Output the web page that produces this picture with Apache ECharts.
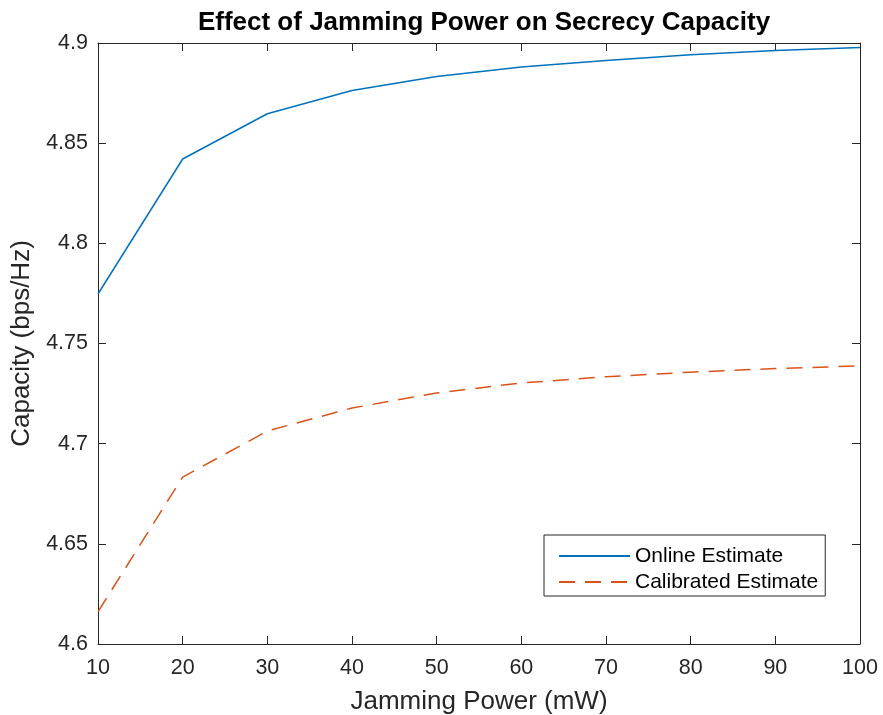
<!DOCTYPE html>
<html>
<head>
<meta charset="utf-8">
<script src="https://cdn.jsdelivr.net/npm/echarts@6/dist/echarts.min.js"></script>
<style>html,body{margin:0;padding:0;background:#fff}#c{width:883px;height:715px}</style>
</head>
<body>
<div id="c"></div>
<script>
const jammingPower = [10, 20, 30, 40, 50, 60, 70, 80, 90, 100];
const onlineEstimate = [4.7747, 4.8421, 4.8647, 4.8763, 4.8833, 4.8880, 4.8913, 4.8941, 4.8963, 4.8978];
const calibratedEstimate = [4.6161, 4.6833, 4.7063, 4.7178, 4.7253, 4.7303, 4.7334, 4.7357, 4.7375, 4.7388];
const seriesNames = ['Online Estimate', 'Calibrated Estimate'];

const axisColor = '#262626';
const font = 'Liberation Sans, Arial, Helvetica, sans-serif';
const chart = echarts.init(document.getElementById('c'));

function pairs(xs, ys) { return xs.map((x, i) => [x, ys[i]]); }

const baseAxis = {
  axisLine: { show: true, lineStyle: { color: axisColor, width: 1 } },
  axisTick: { show: true, inside: true, length: 8, lineStyle: { color: axisColor, width: 1 } },
  splitLine: { show: false }
};

chart.setOption({
  animation: false,
  backgroundColor: '#fff',
  title: {
    text: 'Effect of Jamming Power on Secrecy Capacity',
    left: 479, top: 5, textAlign: 'center',
    textStyle: { fontFamily: font, fontSize: 26, fontWeight: 'bold', color: '#000' }
  },
  grid: { left: 98, right: 23, top: 43, bottom: 71, containLabel: false, outerBoundsMode: 'none' },
  legend: {
    orient: 'vertical',
    left: 544, top: 535,
    padding: [10, 7, 3, 14],
    itemGap: 4,
    itemWidth: 71,
    itemHeight: 14,
    itemTextGap: 7,
    itemStyle: { opacity: 0 },
    borderColor: axisColor, borderWidth: 1,
    backgroundColor: '#fff',
    textStyle: { fontFamily: font, fontSize: 21, lineHeight: 22, color: '#000' },
    data: seriesNames
  },
  xAxis: [
    Object.assign({}, baseAxis, {
      type: 'value', min: 10, max: 100, interval: 10, position: 'bottom',
      name: 'Jamming Power (mW)', nameLocation: 'middle', nameGap: 45,
      nameTextStyle: { fontFamily: font, fontSize: 26, color: axisColor },
      axisLabel: { fontFamily: font, fontSize: 21.5, color: axisColor, margin: 13 }
    }),
    Object.assign({}, baseAxis, {
      type: 'value', min: 10, max: 100, interval: 10, position: 'top',
      axisLabel: { show: false }
    })
  ],
  yAxis: [
    Object.assign({}, baseAxis, {
      type: 'value', min: 4.6, max: 4.9, interval: 0.05, position: 'left',
      name: 'Capacity (bps/Hz)', nameLocation: 'middle', nameGap: 62,
      nameTextStyle: { fontFamily: font, fontSize: 26, color: axisColor },
      axisLabel: { fontFamily: font, fontSize: 21.5, color: axisColor, margin: 10, padding: [3, 0, 0, 0] }
    }),
    Object.assign({}, baseAxis, {
      type: 'value', min: 4.6, max: 4.9, interval: 0.05, position: 'right',
      axisLabel: { show: false }
    })
  ],
  series: [
    {
      name: seriesNames[0], type: 'line', showSymbol: false, symbol: 'none',
      data: pairs(jammingPower, onlineEstimate),
      lineStyle: { color: '#0072BD', width: 1.5 },
      itemStyle: { color: '#0072BD' }
    },
    {
      name: seriesNames[1], type: 'line', showSymbol: false, symbol: 'none',
      data: pairs(jammingPower, calibratedEstimate),
      lineStyle: { color: '#D95319', width: 1.5, type: [16, 10] },
      itemStyle: { color: '#D95319' }
    }
  ]
});
</script>
</body>
</html>
